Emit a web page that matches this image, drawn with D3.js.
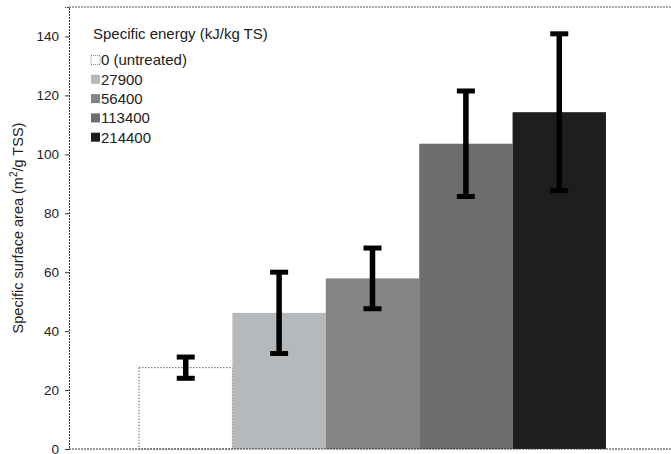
<!DOCTYPE html>
<html>
<head>
<meta charset="utf-8">
<script src="https://cdn.jsdelivr.net/npm/d3@7"></script>
<style>
  body { margin: 0; background: #fff; }
  text { font-family: "Liberation Sans", Arial, sans-serif; fill: #222; }
</style>
</head>
<body>
<svg></svg>
<script>
// specific energy levels (legend) and measured surface area
var energies = ["0 (untreated)", "27900", "56400", "113400", "214400"];
var area = [27.6, 46.2, 57.9, 103.6, 114.3];
var errs = [3.6, 13.8, 10.3, 17.9, 26.6];
var yTicks = [0, 20, 40, 60, 80, 100, 120, 140];

var fills = ["#ffffff", "#b6b9bb", "#848484", "#6d6d6d", "#1e1e1e"];

var w = 671;
var h = 454;
var margin = { top: 7, right: -5, bottom: 5, left: 69 };

var svg = d3.select("svg")
    .attr("width", w)
    .attr("height", h);

var x = d3.scaleBand()
    .domain(energies)
    .range([margin.left, w - margin.right])
    .paddingInner(0)
    .paddingOuter(0.75);

var y = d3.scaleLinear()
    .domain([0, 150])
    .range([h - margin.bottom, margin.top]);

// frame (top + right), dotted like the scan
svg.append("path")
    .attr("d", "M" + margin.left + "," + y(150) + "H" + (w - margin.right) + "V" + y(0))
    .attr("fill", "none")
    .attr("stroke", "#555")
    .attr("stroke-dasharray", "2,1");

// bars
svg.selectAll("rect.bar")
    .data(area)
    .enter()
    .append("rect")
    .attr("class", "bar")
    .attr("x", function (d, i) { return x(energies[i]); })
    .attr("y", function (d) { return y(d); })
    .attr("width", x.bandwidth())
    .attr("height", function (d) { return y(0) - y(d); })
    .attr("fill", function (d, i) { return fills[i]; })
    .attr("stroke", function (d, i) { return i == 0 ? "#666" : "none"; })
    .attr("stroke-dasharray", "1.5,1.5");

// error bars
var eb = svg.selectAll("g.err")
    .data(area)
    .enter()
    .append("g")
    .attr("class", "err")
    .attr("transform", function (d, i) {
        return "translate(" + (x(energies[i]) + x.bandwidth() / 2) + ",0)";
    });

eb.append("line")
    .attr("y1", function (d, i) { return y(d + errs[i]); })
    .attr("y2", function (d, i) { return y(d - errs[i]); })
    .attr("stroke", "#000")
    .attr("stroke-width", 5.5);

eb.append("line")
    .attr("x1", -9).attr("x2", 9)
    .attr("y1", function (d, i) { return y(d + errs[i]); })
    .attr("y2", function (d, i) { return y(d + errs[i]); })
    .attr("stroke", "#000")
    .attr("stroke-width", 5);

eb.append("line")
    .attr("x1", -9).attr("x2", 9)
    .attr("y1", function (d, i) { return y(d - errs[i]); })
    .attr("y2", function (d, i) { return y(d - errs[i]); })
    .attr("stroke", "#000")
    .attr("stroke-width", 5);

// axes
var yAxis = svg.append("g")
    .attr("transform", "translate(" + margin.left + ",0)")
    .call(d3.axisLeft(y).tickValues(yTicks).tickSize(4).tickPadding(6));
yAxis.selectAll("text").style("font-size", "13.5px");
yAxis.select(".domain").attr("stroke", "#333").attr("stroke-dasharray", "2,1");
yAxis.selectAll(".tick line").attr("stroke", "#333");

svg.append("line")
    .attr("x1", margin.left).attr("x2", w - margin.right)
    .attr("y1", y(0)).attr("y2", y(0))
    .attr("stroke", "#333")
    .attr("stroke-dasharray", "2,1");

// y label
var lab = svg.append("text")
    .attr("transform", "translate(23," + ((y(0) + y(150)) / 2) + ") rotate(-90)")
    .attr("text-anchor", "middle")
    .style("font-size", "14.5px");
lab.append("tspan").text("Specific surface area (m");
lab.append("tspan").text("2").attr("dy", -6).style("font-size", "10px");
lab.append("tspan").text("/g TSS)").attr("dy", 6);

// legend
var lg = svg.append("g").attr("transform", "translate(91,39)");
lg.append("text")
    .attr("x", 2)
    .style("font-size", "15px")
    .text("Specific energy (kJ/kg TS)");

var items = lg.selectAll("g.item")
    .data(energies)
    .enter()
    .append("g")
    .attr("class", "item")
    .attr("transform", function (d, i) { return "translate(0," + (21 + i * 19.3) + ")"; });

items.append("rect")
    .attr("width", 9).attr("height", 9)
    .attr("y", -4.5)
    .attr("fill", function (d, i) { return fills[i]; })
    .attr("stroke", function (d, i) { return i == 0 ? "#888" : "none"; })
    .attr("stroke-dasharray", "1,1");

items.append("text")
    .attr("x", 10)
    .attr("dy", "0.36em")
    .style("font-size", "15px")
    .text(function (d) { return d; });
</script>
</body>
</html>
